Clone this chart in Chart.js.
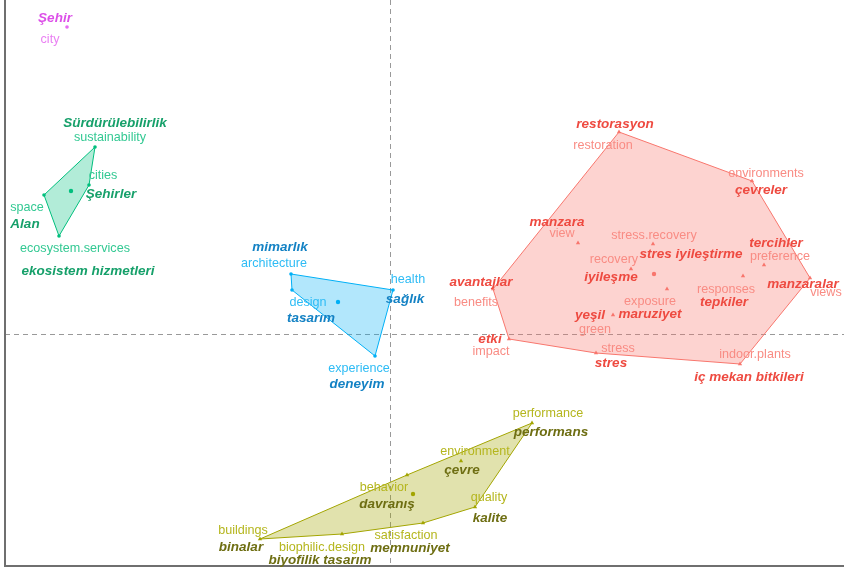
<!DOCTYPE html>
<html>
<head>
<meta charset="utf-8">
<script src="https://cdn.jsdelivr.net/npm/chart.js@4"></script>
<style>
  html, body { margin: 0; padding: 0; background: #fff; }
  #wrap { width: 844px; height: 571px; }
</style>
</head>
<body>
<div id="wrap"><canvas id="c"></canvas></div>
<script>
(function () {
  // Coordonnées des mots (dim1, dim2)
  const magentaPoints = [{ x: -3.23, y: 3.07 }];
  const greenPoints = [
    { x: -2.95, y: 1.87 }, // sustainability
    { x: -3.01, y: 1.49 }, // cities
    { x: -3.31, y: 0.98 }, // ecosystem.services
    { x: -3.46, y: 1.39 }  // space
  ];
  const bluePoints = [
    { x: -0.99, y: 0.60 }, // architecture
    { x: 0.03, y: 0.44 },  // health
    { x: -0.15, y: -0.22 },// experience
    { x: -0.98, y: 0.44 }  // design
  ];
  const redHull = [
    { x: 2.29, y: 2.02 },  // restoration
    { x: 3.62, y: 1.53 },  // environments
    { x: 4.20, y: 0.56 },  // views
    { x: 3.50, y: -0.30 }, // indoor.plants
    { x: 2.06, y: -0.19 }, // stress
    { x: 1.19, y: -0.05 }, // impact
    { x: 1.03, y: 0.45 }   // benefits
  ];
  const redInner = [
    { x: 1.88, y: 0.91 },  // view
    { x: 2.63, y: 0.90 },  // stress.recovery
    { x: 2.41, y: 0.65 },  // recovery
    { x: 2.77, y: 0.45 },  // exposure
    { x: 3.53, y: 0.58 },  // responses
    { x: 3.74, y: 0.69 },  // preference
    { x: 2.23, y: 0.19 }   // green
  ];
  const oliveHull = [
    { x: 1.42, y: -0.89 }, // performance
    { x: 0.85, y: -1.73 }, // quality
    { x: 0.33, y: -1.89 }, // satisfaction
    { x: -0.48, y: -2.00 },// biophilic.design
    { x: -1.30, y: -2.05 },// buildings
    { x: 0.17, y: -1.41 }  // behavior
  ];
  const oliveInner = [{ x: 0.71, y: -1.27 }]; // environment
  const centers = {
    green: { x: -3.19, y: 1.43 },
    blue: { x: -0.52, y: 0.32 },
    red: { x: 2.64, y: 0.60 },
    olive: { x: 0.23, y: -1.60 }
  };

  // Étiquettes : [texte, x, y]
  const magentaLabels = [['city', -3.40, 2.94]];
  const magentaTerms = [['Şehir', -3.35, 3.16]];
  const greenLabels = [
    ['sustainability', -2.80, 1.96], ['cities', -2.87, 1.58],
    ['space', -3.63, 1.26], ['ecosystem.services', -3.15, 0.85]
  ];
  const greenTerms = [
    ['Sürdürülebilirlik', -2.75, 2.11], ['Şehirler', -2.79, 1.40],
    ['Alan', -3.65, 1.10], ['ekosistem hizmetleri', -3.02, 0.63]
  ];
  const blueLabels = [
    ['architecture', -1.16, 0.70], ['health', 0.18, 0.54],
    ['design', -0.82, 0.31], ['experience', -0.31, -0.35]
  ];
  const blueTerms = [
    ['mimarlık', -1.10, 0.87], ['sağlık', 0.15, 0.35],
    ['tasarım', -0.79, 0.16], ['deneyim', -0.33, -0.50]
  ];
  const redLabels = [
    ['restoration', 2.13, 1.88], ['environments', 3.76, 1.60], ['view', 1.72, 1.00],
    ['stress.recovery', 2.64, 0.98], ['preference', 3.90, 0.77], ['recovery', 2.24, 0.74],
    ['benefits', 0.86, 0.31], ['views', 4.36, 0.41], ['responses', 3.36, 0.44],
    ['exposure', 2.60, 0.32], ['green', 2.05, 0.04], ['impact', 1.01, -0.18],
    ['stress', 2.28, -0.15], ['indoor.plants', 3.65, -0.21]
  ];
  const redTerms = [
    ['restorasyon', 2.25, 2.10], ['çevreler', 3.71, 1.44], ['manzara', 1.67, 1.12],
    ['stres iyileştirme', 3.01, 0.80], ['tercihler', 3.86, 0.91], ['iyileşme', 2.21, 0.57],
    ['avantajlar', 0.91, 0.52], ['manzaralar', 4.13, 0.50], ['tepkiler', 3.34, 0.32],
    ['maruziyet', 2.60, 0.20], ['yeşil', 2.00, 0.19], ['etki', 1.00, -0.05],
    ['stres', 2.21, -0.29], ['iç mekan bitkileri', 3.59, -0.43]
  ];
  const oliveLabels = [
    ['performance', 1.58, -0.80], ['environment', 0.85, -1.18], ['behavior', -0.06, -1.54],
    ['quality', 0.99, -1.64], ['satisfaction', 0.16, -2.02], ['buildings', -1.47, -1.97],
    ['biophilic.design', -0.68, -2.14]
  ];
  const oliveTerms = [
    ['performans', 1.61, -0.98], ['çevre', 0.72, -1.36], ['davranış', -0.03, -1.70],
    ['kalite', 1.00, -1.84], ['memnuniyet', 0.20, -2.14], ['binalar', -1.49, -2.13],
    ['biyofilik tasarım', -0.70, -2.26]
  ];

  const COL = {
    red: '#F8766D', olive: '#A3A500', green: '#00BF7D', blue: '#00B0F6', magenta: '#E76BF3'
  };
  const FILL = {
    red: 'rgba(248,118,109,0.32)', olive: 'rgba(163,165,0,0.32)',
    green: 'rgba(0,191,125,0.3)', blue: 'rgba(0,176,246,0.3)'
  };
  const LIGHT = {
    red: '#F98C84', olive: '#B5B61E', green: '#33C993', blue: '#2EBCF5', magenta: '#EA80F3'
  };
  const DARK = {
    red: '#EE4A40', olive: '#6E6E12', green: '#16A06A', blue: '#1482C4', magenta: '#DC4FE8'
  };

  function hull(points, key) {
    return {
      data: points.concat([points[0]]),
      showLine: true,
      fill: 'shape',
      backgroundColor: FILL[key],
      borderColor: COL[key],
      borderWidth: 1,
      pointRadius: 0
    };
  }
  function marks(points, key, style, r) {
    return {
      data: points,
      showLine: false,
      pointStyle: style,
      pointRadius: r,
      backgroundColor: COL[key],
      borderColor: COL[key],
      borderWidth: 0
    };
  }

  const labelGroups = [
    [magentaLabels, magentaTerms, 'magenta'],
    [greenLabels, greenTerms, 'green'],
    [blueLabels, blueTerms, 'blue'],
    [redLabels, redTerms, 'red'],
    [oliveLabels, oliveTerms, 'olive']
  ];

  // Axes à zéro (pointillés) + cadre gauche/bas
  const refLines = {
    id: 'refLines',
    beforeDatasetsDraw(chart) {
      const { ctx, chartArea: a, scales: { x, y } } = chart;
      ctx.save();
      ctx.strokeStyle = '#999999';
      ctx.lineWidth = 1;
      ctx.setLineDash([5, 4]);
      const x0 = Math.round(x.getPixelForValue(0)) + 0.5;
      const y0 = Math.round(y.getPixelForValue(0)) + 0.5;
      ctx.beginPath();
      ctx.moveTo(x0, a.top); ctx.lineTo(x0, a.bottom);
      ctx.moveTo(a.left, y0); ctx.lineTo(a.right, y0);
      ctx.stroke();
      ctx.setLineDash([]);
      ctx.strokeStyle = '#6f6f6f';
      ctx.lineWidth = 2;
      ctx.beginPath();
      ctx.moveTo(a.left, a.top); ctx.lineTo(a.left, a.bottom); ctx.lineTo(a.right, a.bottom);
      ctx.stroke();
      ctx.restore();
    }
  };

  const wordLabels = {
    id: 'wordLabels',
    afterDatasetsDraw(chart) {
      const { ctx, scales: { x, y } } = chart;
      ctx.save();
      ctx.textAlign = 'center';
      ctx.textBaseline = 'middle';
      labelGroups.forEach(([eng, tr, key]) => {
        ctx.font = '12.6px "Liberation Sans", Arial, sans-serif';
        ctx.fillStyle = LIGHT[key];
        eng.forEach(([t, vx, vy]) => ctx.fillText(t, x.getPixelForValue(vx), y.getPixelForValue(vy)));
        ctx.font = 'italic bold 13.5px "Liberation Sans", Arial, sans-serif';
        ctx.fillStyle = DARK[key];
        tr.forEach(([t, vx, vy]) => ctx.fillText(t, x.getPixelForValue(vx), y.getPixelForValue(vy)));
      });
      ctx.restore();
    }
  };

  new Chart(document.getElementById('c'), {
    type: 'scatter',
    data: {
      datasets: [
        hull(redHull, 'red'),
        hull(oliveHull, 'olive'),
        hull(greenPoints, 'green'),
        hull(bluePoints, 'blue'),
        marks(redHull.concat(redInner), 'red', 'triangle', 2.5),
        marks(oliveHull.concat(oliveInner), 'olive', 'triangle', 2.5),
        marks(greenPoints, 'green', 'circle', 1.8),
        marks(bluePoints, 'blue', 'circle', 1.8),
        marks(magentaPoints, 'magenta', 'circle', 1.8),
        marks([centers.red], 'red', 'circle', 2.2),
        marks([centers.olive], 'olive', 'circle', 2.2),
        marks([centers.green], 'green', 'circle', 2.2),
        marks([centers.blue], 'blue', 'circle', 2.2)
      ]
    },
    options: {
      responsive: true,
      maintainAspectRatio: false,
      animation: false,
      layout: { autoPadding: false, padding: { left: 5, right: 0, top: 0, bottom: 5 } },
      scales: {
        x: { type: 'linear', min: -3.85, max: 4.54, display: false },
        y: { type: 'linear', min: -2.32, max: 3.34, display: false }
      },
      plugins: {
        legend: { display: false },
        tooltip: { enabled: false }
      }
    },
    plugins: [refLines, wordLabels]
  });
})();
</script>
</body>
</html>
